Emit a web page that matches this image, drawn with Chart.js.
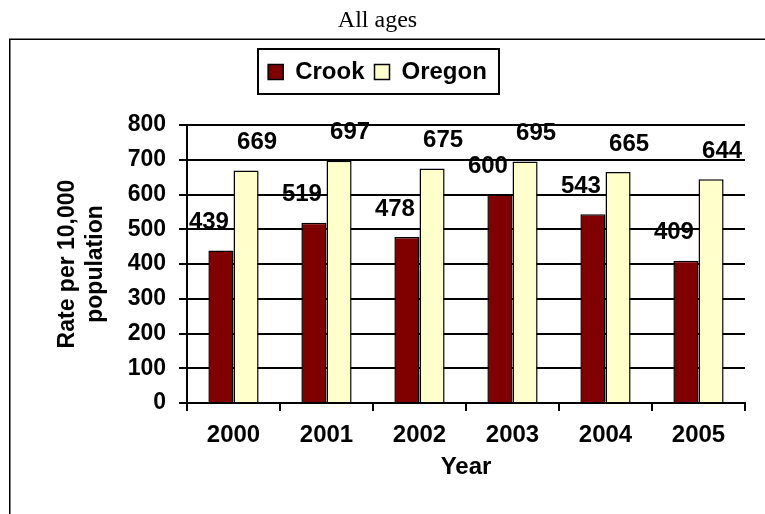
<!DOCTYPE html>
<html>
<head>
<meta charset="utf-8">
<script src="https://cdn.jsdelivr.net/npm/chart.js@4.4.1/dist/chart.umd.min.js"></script>
<style>
  html, body { margin: 0; padding: 0; background: #fff; }
  #wrap { width: 765px; height: 514px; position: relative; }
</style>
</head>
<body>
<div id="wrap"><canvas id="c"></canvas></div>
<script>
const years = ['2000', '2001', '2002', '2003', '2004', '2005'];
const crookRates = [439, 519, 478, 600, 543, 409];
const oregonRates = [669, 697, 675, 695, 665, 644];
const seriesNames = ['Crook', 'Oregon'];
const yTicksMin = 0, yTicksMax = 800, yTicksStep = 100;
const chartTitle = 'All ages';
const yTitle = ['Rate per 10,000', 'population'];
const xTitle = 'Year';

const SANS = "'Liberation Sans', Arial, sans-serif";
Chart.defaults.font.family = SANS;
Chart.defaults.color = '#000';

const frameBox = {
  id: 'frameBox',
  beforeDraw(chart) {
    const ctx = chart.ctx;
    ctx.save();
    ctx.fillStyle = '#fff';
    ctx.fillRect(0, 0, chart.width, chart.height);
    ctx.strokeStyle = '#000';
    ctx.lineWidth = 1.5;
    ctx.strokeRect(9.75, 39.25, chart.width + 20, chart.height + 20);
    ctx.restore();
  },
  afterDraw(chart) {
    const hb = chart.legend && chart.legend.legendHitBoxes;
    if (!hb || !hb.length) return;
    const ctx = chart.ctx;
    const minX = hb[0].left;
    const last = hb[hb.length - 1];
    const maxX = last.left + last.width;
    const cy = hb[0].top + hb[0].height / 2;
    ctx.save();
    ctx.strokeStyle = '#000';
    ctx.lineWidth = 2;
    ctx.strokeRect(Math.round(minX - 10), Math.round(cy - 23), Math.round(maxX - minX + 22), 45);
    ctx.restore();
  }
};

const legendSpace = {
  id: 'legendSpace',
  beforeInit(chart) {
    const origFit = chart.legend.fit;
    chart.legend.fit = function () {
      origFit.bind(chart.legend)();
      this.height += 31;
    };
  }
};

const valueLabels = {
  id: 'valueLabels',
  afterDatasetsDraw(chart) {
    const ctx = chart.ctx;
    ctx.save();
    ctx.font = 'bold 24px ' + SANS;
    ctx.fillStyle = '#000';
    ctx.textAlign = 'center';
    ctx.textBaseline = 'middle';
    chart.data.datasets.forEach((ds, di) => {
      const meta = chart.getDatasetMeta(di);
      const off = di === 0 ? -12 : 11;
      meta.data.forEach((el, i) => {
        ctx.fillText(String(ds.data[i]), el.x + off, el.y - 28);
      });
    });
    ctx.restore();
  }
};

new Chart(document.getElementById('c'), {
  type: 'bar',
  data: {
    labels: years,
    datasets: [
      { label: seriesNames[0], data: crookRates, backgroundColor: '#800000', borderColor: '#000', borderWidth: 1.5 },
      { label: seriesNames[1], data: oregonRates, backgroundColor: '#FFFFCC', borderColor: '#000', borderWidth: 1.5 }
    ]
  },
  options: {
    responsive: true,
    maintainAspectRatio: false,
    animation: false,
    categoryPercentage: 0.54,
    barPercentage: 1.0,
    layout: { padding: { left: 10, right: 20, top: 0, bottom: 0 } },
    plugins: {
      tooltip: { enabled: false },
      title: {
        display: true,
        text: chartTitle,
        color: '#000',
        font: { family: "'Liberation Serif', 'Times New Roman', serif", size: 24, weight: 'normal', lineHeight: 1.2 },
        padding: { top: 6, bottom: 15.2 }
      },
      legend: {
        display: true,
        position: 'top',
        labels: {
          color: '#000',
          font: { family: SANS, size: 24, weight: 'bold' },
          boxWidth: 15,
          boxHeight: 15,
          padding: 10
        }
      }
    },
    scales: {
      x: {
        offset: true,
        grid: { display: true, drawOnChartArea: false, drawTicks: true, tickLength: 8, color: '#000', lineWidth: 2 },
        border: { display: true, color: '#000', width: 2 },
        ticks: { color: '#000', font: { size: 24, weight: 'bold' }, padding: 10, maxRotation: 0 },
        title: { display: true, text: xTitle, color: '#000', font: { size: 24, weight: 'bold', lineHeight: 1.2 }, padding: { top: 0, bottom: 32 } },
        afterFit(scale) { scale.height = 111; }
      },
      y: {
        min: yTicksMin,
        max: yTicksMax,
        ticks: { stepSize: yTicksStep, color: '#000', font: { size: 23, weight: 'bold' }, padding: 13 },
        grid: { display: true, drawOnChartArea: true, drawTicks: true, tickLength: 8, color: '#000', lineWidth: 2 },
        border: { display: true, color: '#000', width: 2 },
        title: { display: true, text: yTitle, color: '#000', font: { size: 23, weight: 'bold', lineHeight: 1.2 }, padding: { top: 44, bottom: 0 } },
        afterFit(scale) { scale.width = 177; }
      }
    }
  },
  plugins: [frameBox, legendSpace, valueLabels]
});
</script>
</body>
</html>
